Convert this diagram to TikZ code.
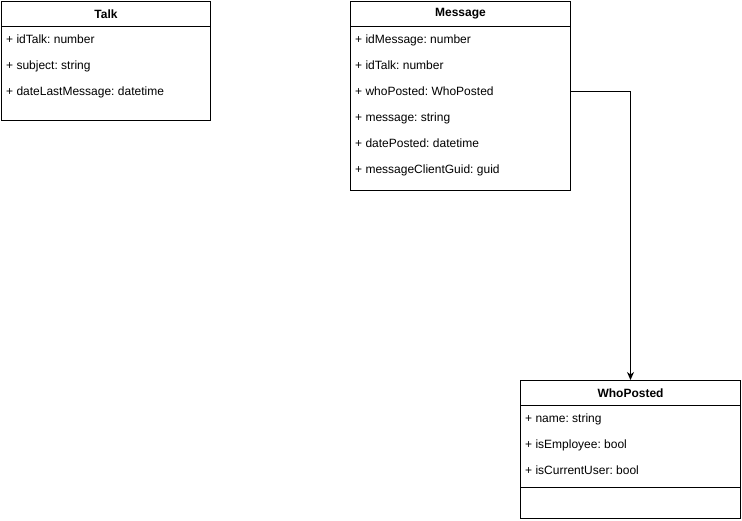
\documentclass[tikz,border=0pt]{standalone}
\usepackage{fontspec}
\setmainfont{Liberation Sans}
\usetikzlibrary{arrows.meta,positioning}
\frenchspacing
\begin{document}
\begin{tikzpicture}[x=1pt,y=-1pt]
		% Styles (MODIFIABLES)
		\tikzstyle{fleche}=[-{Stealth[length=8pt,width=7pt,inset=2.5pt]},line width=1pt]
		\tikzstyle{classe}=[draw,line width=1pt,anchor=north west,inner sep=0pt]
		\tikzstyle{entete}=[classe,font=\bfseries\fontsize{12}{14}\selectfont]
		\tikzstyle{attribut}=[anchor=west,inner sep=0pt,text height=10pt,text depth=2pt,font=\fontsize{12}{14}\selectfont]
		% Dimensions (MODIFIABLES)
		\def\HauteurEntete{25}
		\def\HauteurLigne{26}
		\def\Marge{5}
		% Cadre
		\useasboundingbox (0,0) rectangle (742,520);
		% Classe Talk
		\node[classe,minimum width=209pt,minimum height=119pt] (Talk) at (1,1) {};
		\node[entete,minimum width=209pt,minimum height=\HauteurEntete pt] (TalkTitre) at (1,1) {Talk};
		\node[attribut] (TalkA) at ({1+\Marge},{26+0.5*\HauteurLigne}) {+ idTalk: number};
		\node[attribut] (TalkB) at ({1+\Marge},{26+1.5*\HauteurLigne}) {+ subject: string};
		\node[attribut] (TalkC) at ({1+\Marge},{26+2.5*\HauteurLigne}) {+ dateLastMessage: datetime};
		% Classe Message
		\node[classe,minimum width=220pt,minimum height=189pt] (Message) at (350,1) {};
		\node[entete,minimum width=220pt,minimum height=\HauteurEntete pt] (MessageTitre) at (350,1) {Message};
		\node[attribut] (MessageA) at ({350+\Marge},{26+0.5*\HauteurLigne}) {+ idMessage: number};
		\node[attribut] (MessageB) at ({350+\Marge},{26+1.5*\HauteurLigne}) {+ idTalk: number};
		\node[attribut] (MessageC) at ({350+\Marge},{26+2.5*\HauteurLigne}) {+ whoPosted: WhoPosted};
		\node[attribut] (MessageD) at ({350+\Marge},{26+3.5*\HauteurLigne}) {+ message: string};
		\node[attribut] (MessageE) at ({350+\Marge},{26+4.5*\HauteurLigne}) {+ datePosted: datetime};
		\node[attribut] (MessageF) at ({350+\Marge},{26+5.5*\HauteurLigne}) {+ messageClientGuid: guid};
		% Classe WhoPosted
		\node[classe,minimum width=220pt,minimum height=138pt] (WhoPosted) at (520,380) {};
		\node[entete,minimum width=220pt,minimum height=\HauteurEntete pt] (WhoPostedTitre) at (520,380) {WhoPosted};
		\node[attribut] (WhoPostedA) at ({520+\Marge},{405+0.5*\HauteurLigne}) {+ name: string};
		\node[attribut] (WhoPostedB) at ({520+\Marge},{405+1.5*\HauteurLigne}) {+ isEmployee: bool};
		\node[attribut] (WhoPostedC) at ({520+\Marge},{405+2.5*\HauteurLigne}) {+ isCurrentUser: bool};
		\node[classe,minimum width=220pt,minimum height=31pt] (WhoPostedBas) at (520,487) {};
		% Arcs (MODIFIABLES : Styles)
		\draw[fleche] (Message.east |- MessageC) -| (WhoPostedTitre.north);
	\end{tikzpicture}
\end{document}
